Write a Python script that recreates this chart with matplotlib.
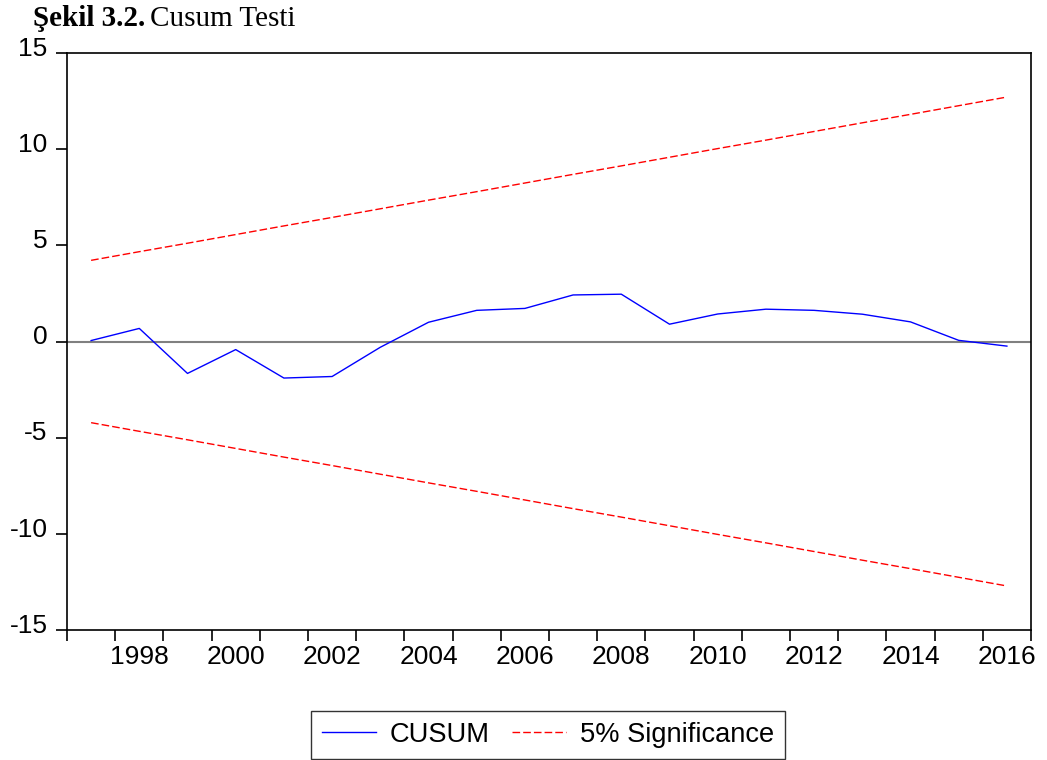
import matplotlib
matplotlib.use("Agg")
import matplotlib.pyplot as plt
import matplotlib.transforms as mtransforms
from matplotlib.ticker import FixedLocator, NullFormatter, FixedFormatter

years = list(range(1997, 2017))
cusum = [0.05, 0.68, -1.66, -0.42, -1.90, -1.82, -0.30, 1.00, 1.62, 1.72,
         2.42, 2.46, 0.90, 1.43, 1.68, 1.62, 1.42, 1.02, 0.06, -0.24]
upper = [4.22, 4.67, 5.11, 5.56, 6.01, 6.45, 6.90, 7.35, 7.79, 8.24,
         8.69, 9.13, 9.58, 10.03, 10.47, 10.92, 11.37, 11.81, 12.26, 12.71]
lower = [-v for v in upper]
xlabels = ["1998", "2000", "2002", "2004", "2006", "2008", "2010", "2012", "2014", "2016"]
label_years = [1998, 2000, 2002, 2004, 2006, 2008, 2010, 2012, 2014, 2016]
yticks = [-15, -10, -5, 0, 5, 10, 15]

W, H = 1047, 760
FS = 19
fig = plt.figure(figsize=(W / 100, H / 100), dpi=100)
ax = fig.add_axes([67 / W, 1 - 630 / H, (1031 - 67) / W, (630 - 53) / H])

xc = [y + 0.5 for y in years]
dash = (0, (5.5, 2.2))
ax.axhline(0, color="#808080", lw=1.5, zorder=1)
l1, = ax.plot(xc, cusum, color="#0000ff", lw=1.0, label="CUSUM", zorder=3)
l2, = ax.plot(xc, upper, color="#ff0000", lw=1.0, ls=dash, label="5% Significance", zorder=2)
ax.plot(xc, lower, color="#ff0000", lw=1.0, ls=dash, zorder=2)

ax.set_xlim(1997, 2017)
ax.set_ylim(-15, 15)
ax.xaxis.set_major_locator(FixedLocator(list(range(1997, 2018))))
ax.xaxis.set_major_formatter(NullFormatter())
ax.xaxis.set_minor_locator(FixedLocator([y + 0.5 for y in label_years]))
ax.xaxis.set_minor_formatter(FixedFormatter(xlabels))
ax.tick_params(axis="x", which="major", direction="out", length=8, width=1.2, color="black")
ax.tick_params(axis="x", which="minor", length=0, pad=11, labelsize=FS)
ax.set_yticks(yticks)
ax.set_yticklabels([str(v) for v in yticks])
ax.tick_params(axis="y", direction="out", length=8, width=1.2, labelsize=FS, pad=6)
for lab in ax.get_xticklabels(minor=True) + ax.get_yticklabels():
    lab.set_fontfamily("Liberation Sans")
offset = mtransforms.ScaledTranslation(0, -2 / 72, fig.dpi_scale_trans)
for lab in ax.get_yticklabels():
    lab.set_verticalalignment("baseline")
    lab.set_transform(lab.get_transform() + offset)
for s in ax.spines.values():
    s.set_linewidth(1.2)
    s.set_color("black")

leg = fig.legend(handles=[l1, l2], loc="center", bbox_to_anchor=(548 / W, 1 - 735 / H),
                 ncol=2, frameon=True, fancybox=False, edgecolor="black",
                 prop={"family": "Liberation Sans", "size": 19.6}, handlelength=2.0,
                 columnspacing=0.8, borderpad=0.4, handletextpad=0.5)
leg.get_frame().set_linewidth(1.0)

t1 = fig.text(33 / W, 1 - 26 / H, "Şekil 3.2.", family="Liberation Serif", weight="bold",
              size=21, va="baseline", ha="left")
fig.canvas.draw()
bb = t1.get_window_extent(renderer=fig.canvas.get_renderer())
fig.text(bb.x1 / W + 5 / W, 1 - 26 / H, "Cusum Testi", family="Liberation Serif",
         size=21, va="baseline", ha="left")

fig.savefig("out.png", dpi=100)
